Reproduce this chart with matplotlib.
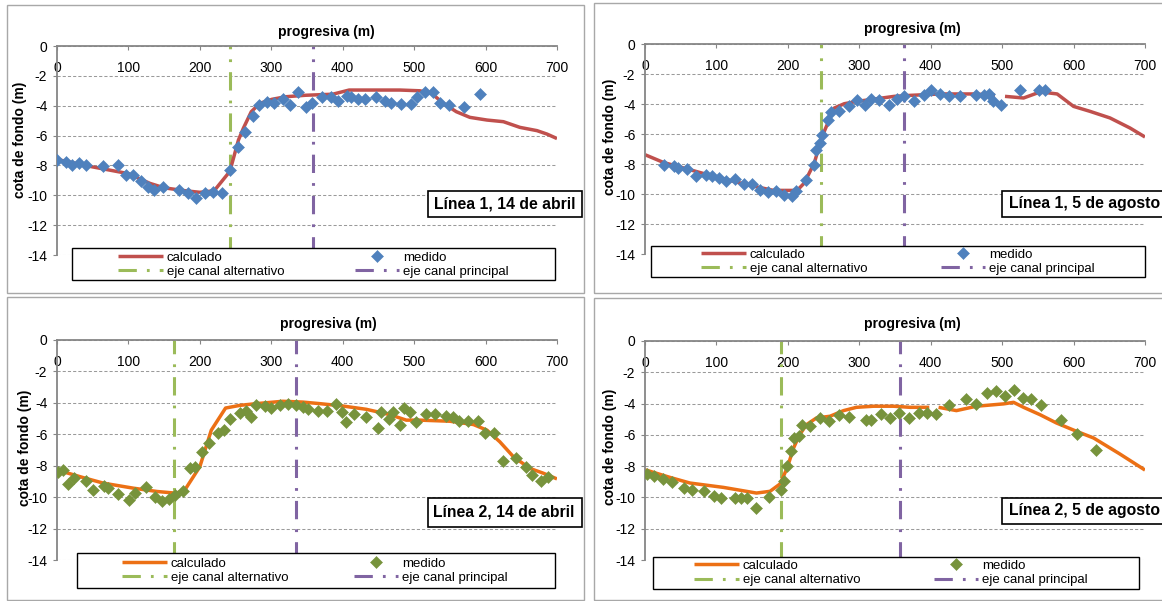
import matplotlib
matplotlib.use("Agg")
import matplotlib.pyplot as plt
from matplotlib.patches import Rectangle
import numpy as np

nan = np.nan

# ---- Linea 1, 14 de abril
med1_x = [0, 12, 21, 31, 41, 64, 86, 97, 107, 117, 127, 136, 148, 171, 183, 195, 207, 219, 231, 242,
          253, 263, 274, 283, 294, 304, 316, 326, 338, 349, 357, 371, 384, 394, 406, 412, 421, 431, 447, 459,
          468, 482, 495, 504, 515, 526, 536, 549, 570, 592]
med1_y = [-7.64, -7.75, -8.0, -7.87, -7.98, -8.05, -7.98, -8.65, -8.65, -9.03, -9.47, -9.65, -9.47, -9.65, -9.88,
          -10.17, -9.88, -9.77, -9.88, -8.31, -6.79, -5.74, -4.69, -3.95, -3.72, -3.84, -3.57, -3.95, -3.05, -4.06,
          -3.79, -3.43, -3.43, -3.66, -3.35, -3.39, -3.57, -3.57, -3.39, -3.66, -3.79, -3.88, -3.88, -3.43, -3.05,
          -3.05, -3.79, -3.95, -4.06, -3.23]
calc1_x = [0, 50, 100, 130, 150, 180, 200, 220, 242, 254, 261, 272, 284, 301, 320, 348, 386, 409, 433, 480,
           508, 524, 541, 559, 578, 602, 625, 648, 672, 686, 700]
calc1_y = [-7.6, -8.1, -8.55, -9.2, -9.5, -9.7, -9.8, -9.7, -8.4, -6.3, -5.5, -4.4, -3.84, -3.57, -3.4, -3.3,
           -3.23, -2.95, -2.95, -2.95, -3.0, -3.16, -3.84, -4.4, -4.78, -4.96, -5.07, -5.45, -5.67, -5.9, -6.2]

# ---- Linea 1, 5 de agosto
med2_x = [26, 40, 45.5, 59, 72, 85, 94, 103, 113, 126, 138, 150, 161, 172, 184, 194, 206, 212, 226, 236,
          239, 245, 248, 256, 260, 272, 285, 297, 308, 317, 328, 341, 353, 363, 377, 390, 400, 413, 426, 441,
          464, 474, 482, 487, 498, 525, 551, 560]
med2_y = [-8.04, -8.16, -8.27, -8.33, -8.78, -8.71, -8.82, -8.93, -9.16, -9.0, -9.31, -9.33, -9.71, -9.89, -9.82,
          -10.04, -10.11, -9.82, -9.04, -8.04, -7.04, -6.6, -6.04, -5.04, -4.56, -4.44, -4.11, -3.76, -4.04, -3.67,
          -3.71, -4.04, -3.67, -3.49, -3.82, -3.42, -3.04, -3.33, -3.44, -3.44, -3.42, -3.42, -3.31, -3.82, -4.04,
          -3.04, -3.04, -3.04]
calc2_x = [0, 26, 59, 87, 124, 157, 180, 213, 223, 237, 248, 258, 265, 279, 298, 321, 349, 373, 391, 414,
           460, 479, 490, 497, 504, 530, 549, 558, 577, 600, 623, 651, 679, 700]
calc2_y = [-7.38, -7.9, -8.33, -8.7, -9.16, -9.53, -9.76, -9.76, -9.27, -7.93, -6.16, -5.04, -4.27, -3.98, -3.82,
           -3.67, -3.49, -3.42, -3.38, -3.33, -3.33, -3.38, -3.42, nan, -3.49, -3.6, -3.27, -3.22, -3.33, -4.16,
           -4.49, -4.93, -5.6, -6.2]

# ---- Linea 2, 14 de abril
med3_x = [2, 9, 16, 24, 41, 50, 66, 72, 86, 101, 109, 124, 137, 147, 157, 165, 176, 186, 193, 203,
          213, 226, 234, 242, 256, 264, 272, 279, 291, 300, 312, 323, 335, 345, 351, 365, 378, 390, 399, 405,
          416, 432, 449, 454, 465, 470, 480, 486, 494, 503, 517, 529, 545, 554, 563, 576, 590, 599, 612, 624,
          643, 656, 665, 677, 687]
med3_y = [-8.38, -8.27, -9.16, -8.76, -9.0, -9.54, -9.26, -9.39, -9.81, -10.17, -9.75, -9.37, -9.96, -10.27, -10.1,
          -9.89, -9.64, -8.16, -8.06, -7.15, -6.58, -5.89, -5.7, -5.0, -4.62, -4.55, -4.89, -4.11, -4.2, -4.32,
          -4.16, -4.05, -4.16, -4.26, -4.41, -4.54, -4.54, -4.09, -4.58, -5.21, -4.68, -4.89, -5.59, -4.58, -5.0,
          -4.58, -5.38, -4.32, -4.58, -5.25, -4.68, -4.68, -4.83, -4.89, -5.17, -5.17, -5.17, -5.89, -5.95, -7.7,
          -7.49, -8.06, -8.59, -9.0, -8.69]
calc3_x = [0, 37, 65, 107, 140, 167, 179, 200, 216, 236, 256, 279, 316, 344, 368, 400, 433, 466, 489, 508,
           550, 583, 602, 620, 639, 662, 681, 700]
calc3_y = [-8.27, -8.76, -9.11, -9.43, -9.64, -9.75, -9.54, -8.06, -5.74, -4.33, -4.16, -4.05, -3.9, -3.95,
           -4.05, -4.2, -4.41, -4.75, -5.1, -5.1, -5.17, -5.38, -5.74, -6.48, -7.43, -8.17, -8.48, -8.84]

# ---- Linea 2, 5 de agosto
med4_x = [3, 13, 25, 38, 55, 66, 83, 97, 106, 126, 134, 143, 155, 174, 190, 194, 199, 205, 209, 216,
          220, 231, 245, 258, 272, 286, 309, 317, 330, 343, 355, 369, 383, 395, 408, 425, 450, 464, 479, 492,
          504, 516, 529, 540, 555, 583, 605, 631]
med4_y = [-8.5, -8.65, -8.82, -9.01, -9.4, -9.5, -9.61, -9.93, -10.04, -10.04, -10.04, -10.04, -10.68, -9.97,
          -9.5, -8.97, -8.01, -7.01, -6.2, -6.05, -5.39, -5.45, -4.92, -5.13, -4.71, -4.83, -5.03, -5.03, -4.64,
          -4.92, -4.6, -4.92, -4.6, -4.6, -4.64, -4.11, -3.68, -4.0, -3.32, -3.21, -3.53, -3.11, -3.64, -3.7,
          -4.11, -5.03, -5.92, -7.0]
calc4_x = [0, 35, 63, 110, 156, 175, 189, 199, 208, 216, 226, 240, 259, 278, 296, 320, 348, 371, 398, 405,
           411, 436, 464, 502, 516, 530, 553, 576, 604, 628, 664, 700]
calc4_y = [-8.23, -8.72, -9.08, -9.36, -9.72, -9.61, -9.14, -8.12, -6.84, -6.03, -5.35, -4.92, -4.81, -4.45,
           -4.24, -4.17, -4.17, -4.24, -4.24, nan, -4.24, -4.45, -4.17, -4.02, -3.92, -4.24, -4.71, -5.24, -5.77,
           -6.2, -7.2, -8.25]

# canal axes (progresiva, m)
eje_alt = [242, 246, 164, 190]
eje_princ = [358, 363, 334, 357]

titulos = ["Línea 1, 14 de abril", "Línea 1, 5 de agosto", "Línea 2, 14 de abril", "Línea 2, 5 de agosto"]
yticks = [0, -2, -4, -6, -8, -10, -12, -14]
xticks = [0, 100, 200, 300, 400, 500, 600, 700]

W, H = 1162, 601

# layout in image pixels (x0, y0, x1, y1)
layout = [
  dict(axes=(57, 46, 557, 255), frame=(7, 5, 584, 293), title=(326, 32), ylab=(20, 140),
       legbox=(72, 248, 555, 280), legitems=(118, 248, 509, 281), lab=(428, 191, 582, 217), labtxt=(434, 204)),
  dict(axes=(645, 44, 1145, 254), frame=(594, 3, 1175, 293), title=(912, 29), ylab=(610, 137),
       legbox=(651, 246, 1145, 277), legitems=(701, 246, 1095, 277), lab=(1002, 191, 1175, 217), labtxt=(1009, 204)),
  dict(axes=(57, 340, 557, 560), frame=(7, 297, 584, 600), title=(328, 324), ylab=(25, 448),
       legbox=(77, 553, 555, 588), legitems=(122, 553, 508, 588), lab=(428, 498, 582, 527), labtxt=(433, 512)),
  dict(axes=(645, 341, 1145, 560), frame=(594, 298, 1175, 600), title=(912, 324), ylab=(610, 447),
       legbox=(653, 557, 1139, 589), legitems=(694, 557, 1088, 589), lab=(1002, 498, 1175, 524), labtxt=(1009, 511)),
]

plt.rcParams['font.family'] = ['Liberation Sans', 'DejaVu Sans']
plt.rcParams['axes.unicode_minus'] = False


def px_rect(x0, y0, x1, y1):
  return [x0 / W, 1 - y1 / H, (x1 - x0) / W, (y1 - y0) / H]


def fig_box(fig, box, edge, lw, fill=False, z=1):
  r = Rectangle((box[0] / W, 1 - box[3] / H), (box[2] - box[0]) / W, (box[3] - box[1]) / H,
                transform=fig.transFigure, facecolor='white', fill=fill, edgecolor=edge, lw=lw, zorder=z)
  fig.patches.append(r)


def draw_panel(fig, i, cx, cy, mx, my, c_line, c_pts):
  lay = layout[i]
  fig_box(fig, lay['frame'], '#a8a8a8', 1.0)

  ax = fig.add_axes(px_rect(*lay['axes']))
  ax.set_xlim(0, 700)
  ax.set_ylim(-14, 0)
  ax.set_facecolor('none')

  for s in ['right', 'bottom']:
    ax.spines[s].set_visible(False)
  for s in ['left', 'top']:
    ax.spines[s].set_color('#868686')
    ax.spines[s].set_linewidth(1.3)

  ax.set_yticks(yticks)
  ax.set_xticks(xticks)
  ax.xaxis.set_ticks_position('top')
  ax.tick_params(axis='x', direction='in', length=3, color='#868686', labelsize=10, pad=-21)
  ax.tick_params(axis='y', direction='out', length=3, color='#868686', labelsize=10, pad=4)
  ax.yaxis.grid(True, linestyle=(0, (3, 2)), color='#9a9a9a', lw=0.75)
  ax.set_axisbelow(True)

  dash = (0, (6, 3.3, 0.9, 3.3))
  h_alt = ax.axvline(eje_alt[i], color='#9BBB59', lw=2.2, linestyle=dash, zorder=1)
  h_pri = ax.axvline(eje_princ[i], color='#8064A2', lw=2.2, linestyle=dash, zorder=1)
  h_calc, = ax.plot(cx, cy, color=c_line, lw=2.5, zorder=2, solid_capstyle='butt')
  h_med, = ax.plot(mx, my, 'D', color=c_pts, ms=6, mew=0.4, zorder=3, linestyle='none')

  # titles and labels
  fig.text(lay['title'][0] / W, 1 - lay['title'][1] / H, 'progresiva (m)', fontsize=10,
           fontweight='bold', ha='center', va='center')
  fig.text(lay['ylab'][0] / W, 1 - lay['ylab'][1] / H, 'cota de fondo (m)', fontsize=10,
           fontweight='bold', ha='center', va='center', rotation=90)

  # legend
  fig_box(fig, lay['legbox'], 'black', 1.0, fill=True, z=2)
  fig.legend([h_calc, h_alt, h_med, h_pri],
             ['calculado', 'eje canal alternativo', 'medido', 'eje canal principal'],
             ncol=2, mode='expand', loc='center', frameon=False, fontsize=9.5,
             bbox_to_anchor=px_rect(*lay['legitems']), bbox_transform=fig.transFigure,
             handlelength=3.4, handletextpad=0.3, labelspacing=0.15, borderpad=0,
             borderaxespad=0, numpoints=1)

  # label box
  fig_box(fig, lay['lab'], 'black', 1.2, fill=True, z=2)
  fig.text(lay['labtxt'][0] / W, 1 - lay['labtxt'][1] / H, titulos[i], fontsize=11.3,
           fontweight='bold', ha='left', va='center', zorder=4)


fig = plt.figure(figsize=(W / 100, H / 100), dpi=100)

draw_panel(fig, 0, calc1_x, calc1_y, med1_x, med1_y, '#C0504D', '#4F81BD')
draw_panel(fig, 1, calc2_x, calc2_y, med2_x, med2_y, '#C0504D', '#4F81BD')
draw_panel(fig, 2, calc3_x, calc3_y, med3_x, med3_y, '#EC7015', '#77933C')
draw_panel(fig, 3, calc4_x, calc4_y, med4_x, med4_y, '#EC7015', '#77933C')

fig.savefig('out.png', dpi=100)
